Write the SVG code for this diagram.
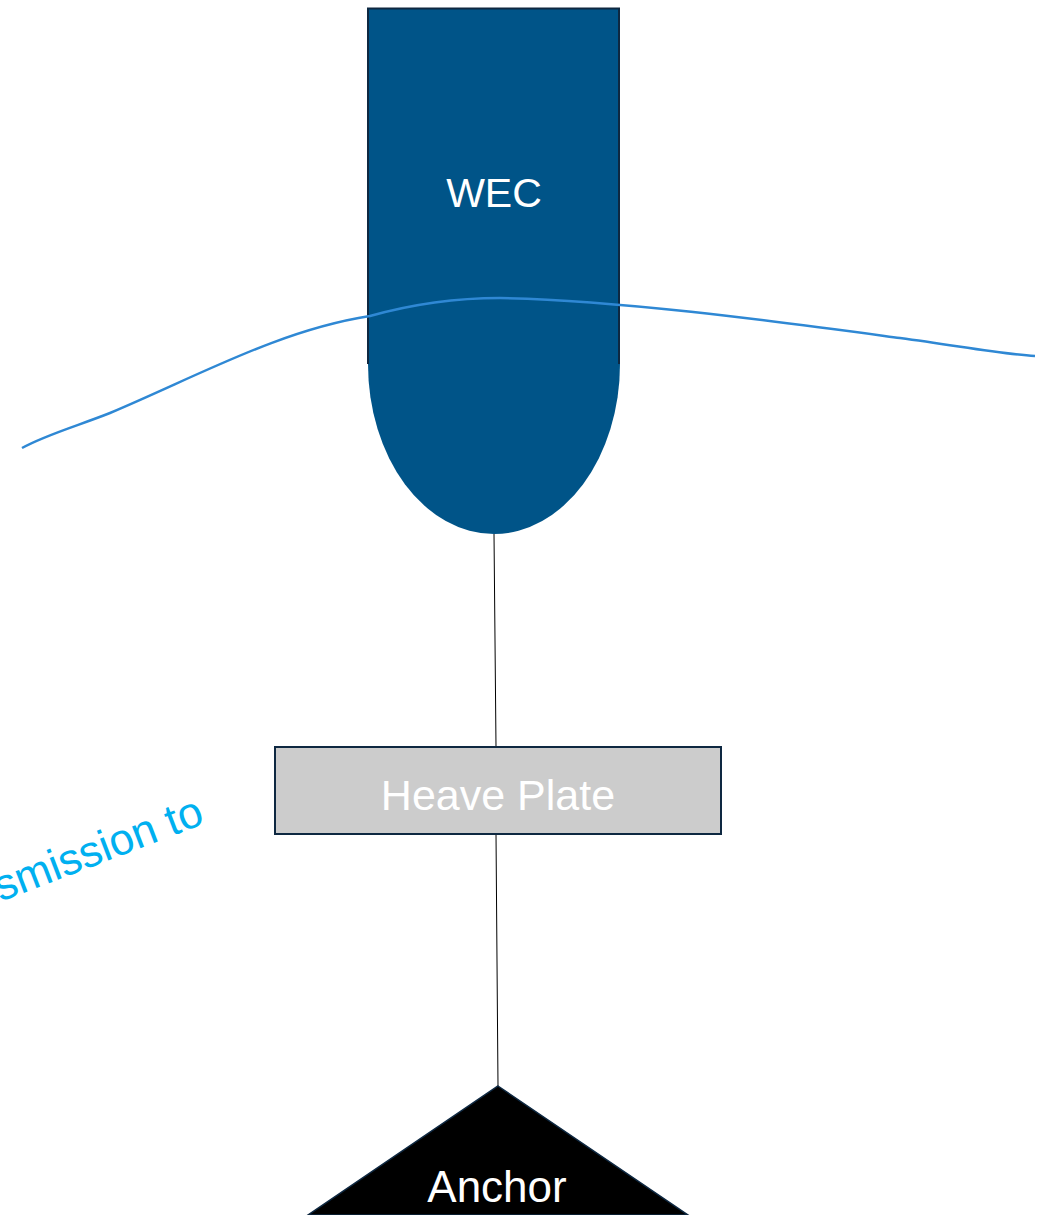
<svg xmlns="http://www.w3.org/2000/svg" width="1048" height="1215" viewBox="0 0 1048 1215">
  <style>
    .lbl { font-family: "Liberation Sans", Arial, sans-serif; text-anchor: middle; }
    .conn { stroke: #000000; stroke-width: 1; fill: none; }
  </style>
  <rect width="1048" height="1215" fill="#ffffff"/>
  <g id="wec">
    <ellipse cx="494" cy="364" rx="126" ry="170" fill="#005488"/>
    <rect x="368" y="8.5" width="251" height="356" fill="#005488"/>
    <path d="M368,364 V8.5 H619 V364" fill="none" stroke="#0e2841" stroke-width="2"/>
    <text class="lbl" x="494" y="207" font-size="41" fill="#ffffff">WEC</text>
  </g>
  <g id="connectors">
    <line class="conn" x1="494" y1="534" x2="496" y2="747"/>
    <line class="conn" x1="496" y1="834" x2="498" y2="1086"/>
  </g>
  <g id="heave-plate">
    <rect x="275" y="747" width="446" height="87" fill="#cccccc" stroke="#0e2841" stroke-width="2"/>
    <text class="lbl" x="498" y="810" font-size="43" fill="#ffffff">Heave Plate</text>
  </g>
  <g id="anchor">
    <polygon points="498,1086 688,1215 308,1215" fill="#000000" stroke="#0e2841" stroke-width="1.5"/>
    <text class="lbl" x="497" y="1202" font-size="44" fill="#ffffff">Anchor</text>
  </g>
  <g id="wave">
    <path d="M22,448 C45,435 80,425 110,413 C200,375 280,330 370,316 C420,302 460,298 500,298 C620,300 780,322 900,338 C960,346 1000,354 1035,356" fill="none" stroke="#2f88d4" stroke-width="2.5"/>
  </g>
  <g id="transmission-label">
    <text x="206" y="823" transform="rotate(-21 206 823)" font-family="Liberation Sans, Arial, sans-serif" font-size="44" fill="#00b0f0" text-anchor="end">smission to</text>
  </g>
</svg>
